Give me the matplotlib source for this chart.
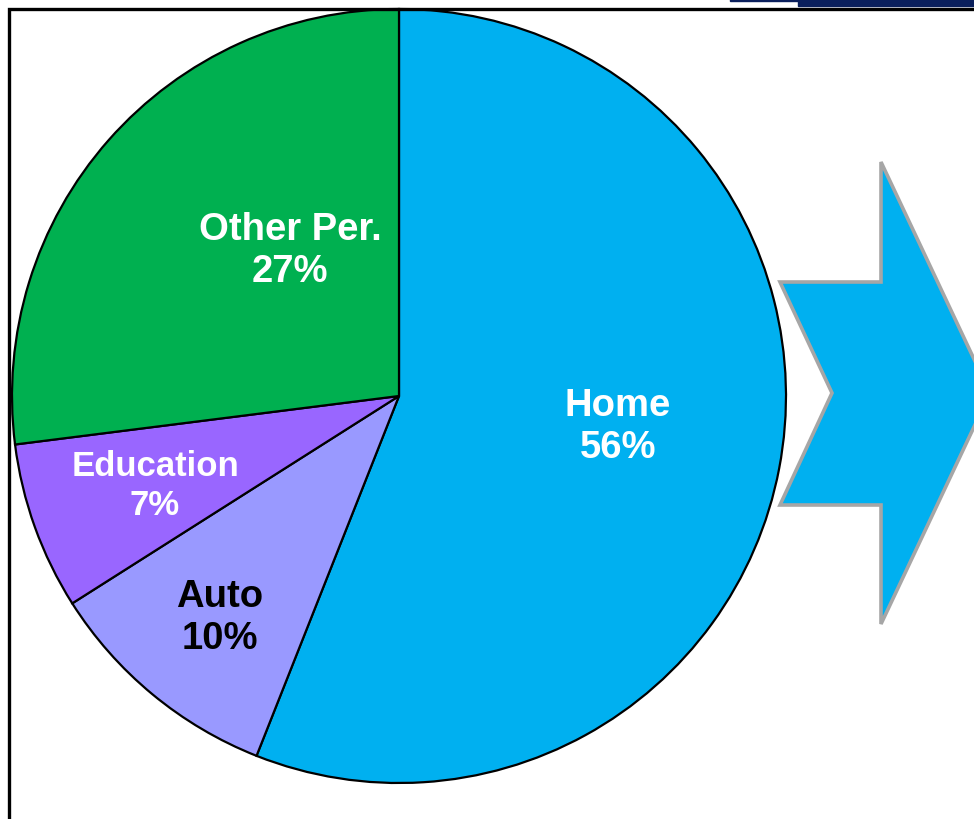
"""Loan mix pie with pointer arrow."""
import matplotlib; matplotlib.use("Agg")
import matplotlib.pyplot as plt
from matplotlib.patches import Polygon, Rectangle

categories = ["Home", "Auto", "Education", "Other Per."]
shares = [56, 10, 7, 27]
colors = ["#00B0F0", "#9999FF", "#9966FF", "#00B050"]
text_colors = ["white", "black", "white", "white"]

W, H = 974, 820
plt.rcParams["font.family"] = ["Liberation Sans", "DejaVu Sans"]
fig = plt.figure(figsize=(W / 100, H / 100), dpi=100)
ax = fig.add_axes([0, 0, 1, 1])

# pie: starts at 12 o'clock, clockwise
wedges, _ = ax.pie(shares, colors=colors, startangle=90, counterclock=False,
                   center=(399, H - 397), radius=387, frame=True,
                   wedgeprops=dict(edgecolor="black", linewidth=1.6))
ax.set_xlim(0, W); ax.set_ylim(0, H); ax.set_aspect("equal"); ax.axis("off")

# labels (layout positions in pixels from top)
label_xy = [(618, 427), (220, 618), (155, 486), (290, 251)]
label_size = [27.5, 27.5, 25, 27.5]
for name, v, (x, y), tc, fs in zip(categories, shares, label_xy, text_colors, label_size):
    ax.text(x, H - y, f"{name}\n{v}%", ha="center", va="center", fontsize=fs,
            fontweight="bold", color=tc, linespacing=1.2)

# frame and header strip
ax.add_patch(Rectangle((9, -20), W + 20, H - 10 + 20, fill=False, edgecolor="black", lw=2.4, zorder=5))
ax.add_patch(Rectangle((798, H - 7), W - 798, 7, color="#0A1F5C", zorder=6))
ax.add_patch(Rectangle((730, H - 2), 70, 2, color="#0A1F5C", zorder=6))

# chevron arrow on the right
arrow = [(780, 283), (881, 283), (881, 163), (990, 394), (881, 625),
         (881, 506), (780, 506), (832, 394)]
ax.add_patch(Polygon([(x, H - y) for x, y in arrow], closed=True, facecolor="#00B0F0",
                     edgecolor="#A6A6A6", lw=2.6, zorder=3))

fig.savefig("out.png", dpi=100)
